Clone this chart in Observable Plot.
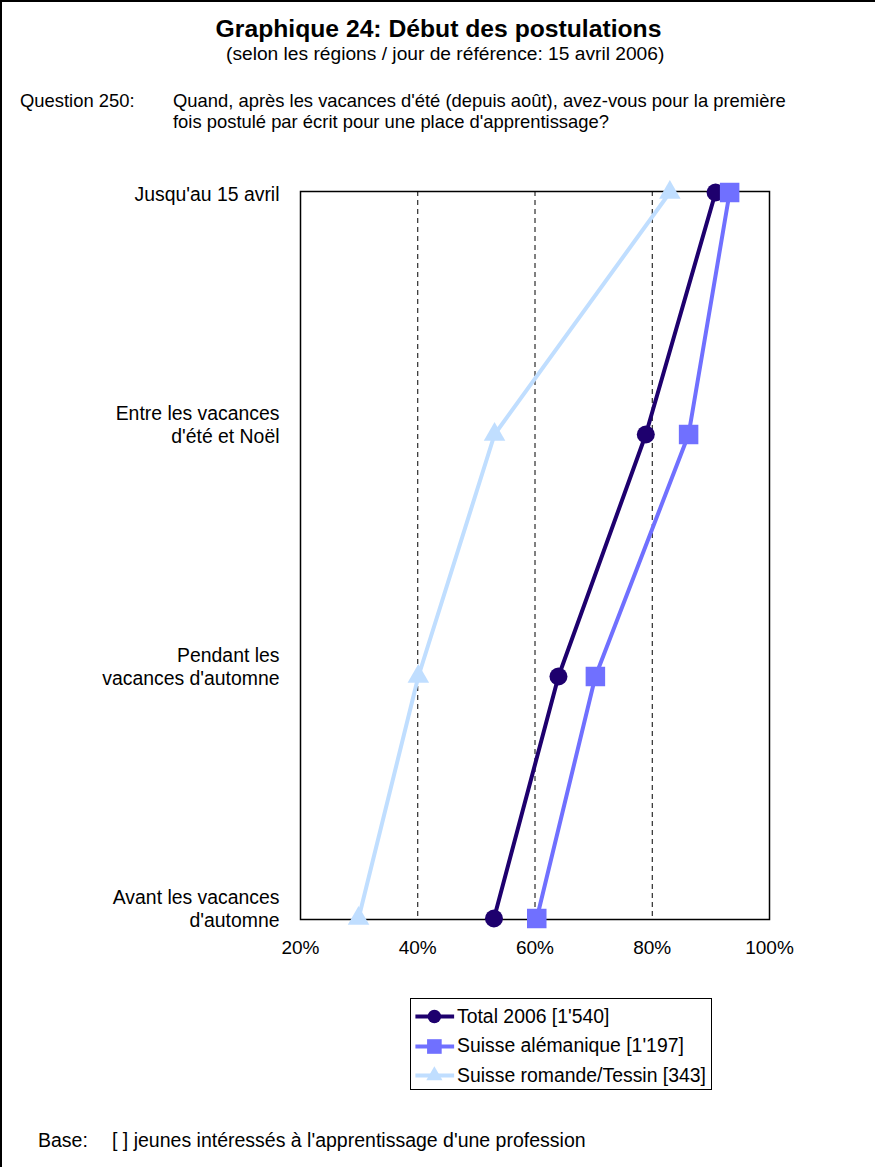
<!DOCTYPE html>
<html>
<head>
<meta charset="utf-8">
<script src="https://cdn.jsdelivr.net/npm/d3@7"></script>
<script src="https://cdn.jsdelivr.net/npm/@observablehq/plot@0.6"></script>
<style>
  html, body { margin: 0; padding: 0; background: white; }
  body { font-family: "Liberation Sans", Arial, sans-serif; color: black; }
  #page { position: relative; width: 873px; height: 1165px; border-left: 2px solid black; border-top: 2px solid black; overflow: hidden; }
  .abs { position: absolute; white-space: nowrap; }
  #title { left: -2px; width: 877px; text-align: center; top: 13px; font-size: 24.7px; font-weight: bold; }
  #subtitle { left: 224px; top: 41px; font-size: 19.2px; }
  .q { font-size: 18.4px; line-height: 21px; }
  #chart { position: absolute; left: -2px; top: 156px; }
  #legend { position: absolute; left: 408px; top: 996px; width: 300px; height: 90px; border: 1px solid black; background: white; }
  .row { position: absolute; left: 0; height: 26px; display: flex; align-items: center; font-size: 19.4px; }
  .row svg { display: block; }
</style>
</head>
<body>
<div id="page">
  <div id="title" class="abs">Graphique 24: Début des postulations</div>
  <div id="subtitle" class="abs">(selon les régions / jour de référence: 15 avril 2006)</div>
  <div class="abs q" style="left:18px; top:88px;">Question 250:</div>
  <div class="abs q" style="left:171px; top:88px;">Quand, après les vacances d'été (depuis août), avez-vous pour la première<br>fois postulé par écrit pour une place d'apprentissage?</div>
  <div id="chart"></div>
  <div id="legend"></div>
  <div class="abs q" style="left:36px; top:1128px; font-size:19.5px;">Base:</div>
  <div class="abs q" style="left:110px; top:1128px; font-size:19.5px;">[ ] jeunes intéressés à l'apprentissage d'une profession</div>
</div>
<script>
// ---- data ----
const categories = [
  "Jusqu'au 15 avril",
  "Entre les vacances\nd'été et Noël",
  "Pendant les\nvacances d'automne",
  "Avant les vacances\nd'automne"
];
const seriesNames = ["Total 2006 [1'540]", "Suisse alémanique [1'197]", "Suisse romande/Tessin [343]"];
const totalValues = [0.908, 0.789, 0.640, 0.530];
const alemaniqueValues = [0.932, 0.862, 0.703, 0.603];
const romandeValues = [0.830, 0.531, 0.401, 0.299];
const xTicks = [0.2, 0.4, 0.6, 0.8, 1.0];
const gridValues = [0.4, 0.6, 0.8];

// ---- styles ----
const seriesColors = ["#1E006E", "#7070FF", "#C0DEFF"];
const seriesSymbols = ["circle", "square", "triangle"];
const seriesR = [9, 11, 8];

const valuesBySeries = [totalValues, alemaniqueValues, romandeValues];
const rows = [];
seriesNames.forEach((s, i) => categories.forEach((c, j) => rows.push({series: s, idx: i, category: c, value: valuesBySeries[i][j]})));

const marks = [
  Plot.ruleX(gridValues, {stroke: "black", strokeWidth: 1, strokeDasharray: "5,4"}),
  Plot.frame({stroke: "black", strokeWidth: 1.5}),
  Plot.axisX({ticks: xTicks, tickFormat: d3.format(".0%"), tickSize: 0, tickPadding: 21, fontSize: 19, label: null}),
  Plot.axisY({tickSize: 0, tickPadding: 21, fontSize: 19.4, lineAnchor: "bottom", lineHeight: 1.15, dy: 8, label: null})
];
seriesNames.forEach((s, i) => {
  const d = rows.filter(r => r.idx === i);
  marks.push(Plot.line(d, {x: "value", y: "category", stroke: seriesColors[i], strokeWidth: 4}));
  marks.push(Plot.dot(d, {x: "value", y: "category", fill: seriesColors[i], stroke: "none", symbol: seriesSymbols[i], r: seriesR[i]}));
});

const chart = Plot.plot({
  width: 875,
  height: 812,
  marginTop: 33,
  marginBottom: 51,
  marginLeft: 300,
  marginRight: 106,
  style: {fontFamily: "'Liberation Sans', Arial, sans-serif", color: "black", background: "transparent", overflow: "visible"},
  x: {domain: [0.2, 1], axis: null},
  y: {type: "point", domain: categories, padding: 0, axis: null},
  marks
});
document.getElementById("chart").appendChild(chart);

// ---- legend ----
const legend = document.getElementById("legend");
seriesNames.forEach((s, i) => {
  const row = document.createElement("div");
  row.className = "row";
  row.style.top = (4 + i * 29.5) + "px";
  const sw = Plot.plot({
    width: 44, height: 26, margin: 0,
    x: {domain: [0, 1], axis: null}, y: {domain: [0, 1], axis: null},
    style: {background: "transparent", overflow: "visible"},
    marks: [
      Plot.ruleY([0.5], {x1: 0.1, x2: 0.98, stroke: seriesColors[i], strokeWidth: 4}),
      Plot.dot([{x: 0.52, y: 0.5}], {x: "x", y: "y", fill: seriesColors[i], symbol: seriesSymbols[i], r: seriesR[i] * 0.75})
    ]
  });
  row.appendChild(sw);
  const t = document.createElement("span");
  t.textContent = s;
  t.style.marginLeft = "2px";
  row.appendChild(t);
  legend.appendChild(row);
});
</script>
</body>
</html>
